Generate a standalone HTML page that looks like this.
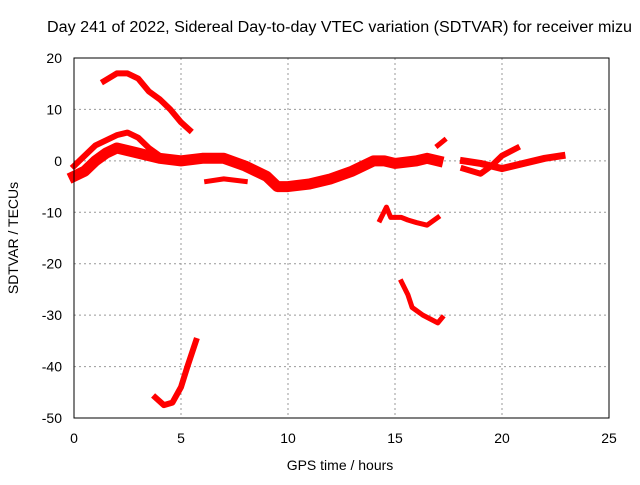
<!DOCTYPE html>
<html><head><meta charset="utf-8"><style>
body{margin:0;background:#fff}
svg text{font-family:"Liberation Sans",sans-serif;font-size:14px;fill:#000}
</style></head><body>
<svg id="c" width="640" height="480">
<text x="47" y="32" textLength="585" lengthAdjust="spacingAndGlyphs" style="font-size:15.5px">Day 241 of 2022, Sidereal Day-to-day VTEC variation (SDTVAR) for receiver mizu</text>
<text x="340" y="470" text-anchor="middle">GPS time / hours</text>
<text x="0" y="0" text-anchor="middle" transform="translate(18,238) rotate(-90)">SDTVAR / TECUs</text>
<g id="grid"></g><g id="series"></g>
<rect x="74" y="58" width="535" height="360" fill="none" stroke="#000"/>
</svg>
<script>
const xTicks=[0,5,10,15,20,25];
const yTicks=[20,10,0,-10,-20,-30,-40,-50];
const s1=[[1.4,15.5],[2,17],[2.5,17],[3,16],[3.5,13.5],[4,12],[4.5,10],[5,7.5],[5.4,6]];
const s2=[[3.8,-46],[4.2,-47.5],[4.6,-47],[5,-44],[5.3,-40],[5.7,-35]];
const s3=[[0,-1],[0.5,1],[1,3],[1.5,4],[2,5],[2.5,5.5],[3,4.5],[3.5,2.5],[4,1]];
const s4=[[0,-3],[0.5,-2],[1,0],[1.5,1.5],[2,2.5],[3,1.5],[4,0.5],[5,0],[6,0.5],[7,0.5],[8,-1],[9,-3],[9.5,-5],[10,-5],[11,-4.5],[12,-3.5],[13,-2],[13.5,-1],[14,0],[14.5,0],[15,-0.5],[16,0],[16.5,0.5],[17,0]];
const s5=[[6.2,-4],[7,-3.5],[8,-4]];
const s6=[[17,3],[17.3,4]];
const s7=[[18.2,0],[19,-0.5],[19.5,-1],[20,-1.5],[21,-0.5],[22,0.5],[22.8,1]];
const s8=[[18.2,-1.5],[19,-2.5],[19.5,-1],[20,1],[20.7,2.5]];
const s9=[[14.3,-11.5],[14.6,-9],[14.8,-11],[15.3,-11],[15.6,-11.5],[16,-12],[16.5,-12.5],[17,-11]];
const s10=[[15.3,-23.5],[15.6,-26],[15.8,-28.5],[16.3,-30],[17,-31.5],[17.2,-30.5]];
const allSeries=[s1,s2,s3,s4,s5,s6,s7,s8,s9,s10];
const widths=[6,6,6,11,5,5,7,6,5,5];
const X=v=>74+v*535/25, Y=v=>58+(20-v)*360/70;
const NS="http://www.w3.org/2000/svg";
const g=document.getElementById('grid'), sg=document.getElementById('series');
function mk(t,a,p){const e=document.createElementNS(NS,t);for(const k in a)e.setAttribute(k,a[k]);p.appendChild(e);return e;}
xTicks.forEach(t=>{const x=X(t);
 if(t>0&&t<25){const l=mk('line',{x1:x,x2:x,y1:58,y2:418,stroke:'#999','stroke-dasharray':'2,3'},g);
 
 }
 const tx=mk('text',{x:x,y:443,'text-anchor':'middle'},g);tx.textContent=t;
 
 });
yTicks.forEach(t=>{const y=Y(t);
 if(t<20&&t>-50){const l=mk('line',{x1:74,x2:609,y1:y,y2:y,stroke:'#999','stroke-dasharray':'2,3'},g);
 
 }
 const tx=mk('text',{x:62,y:y+5,'text-anchor':'end'},g);tx.textContent=t;
 
 });
allSeries.forEach((s,i)=>{const p=mk('polyline',{points:s.map(d=>X(d[0])+','+Y(d[1])).join(' '),fill:'none',stroke:'#f00','stroke-width':widths[i],'stroke-linejoin':'round','stroke-linecap':'square'},sg);
 
 });
</script>
</body></html>
